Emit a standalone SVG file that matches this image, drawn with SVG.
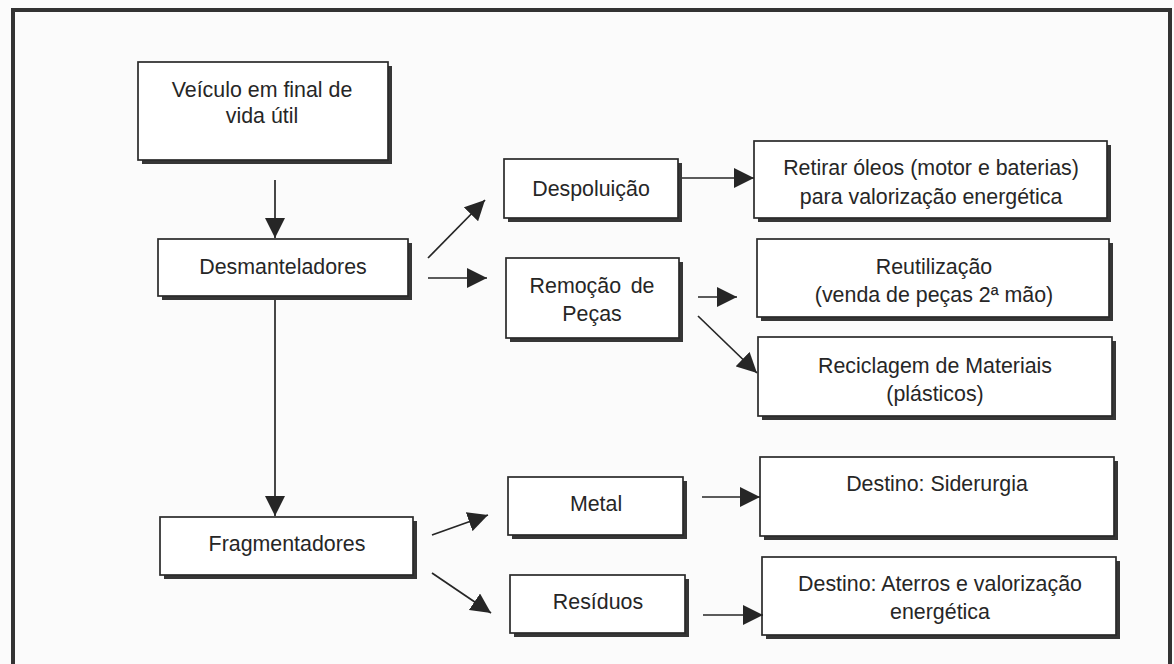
<svg xmlns="http://www.w3.org/2000/svg" width="1174" height="664" viewBox="0 0 1174 664">
  <style>
    .box { fill: #ffffff; stroke: #2a2a2a; stroke-width: 1.7; }
    .shadow { fill: #363636; }
    .lbl { font-family: "Liberation Sans", Arial, sans-serif; font-size: 23px; fill: #262626; text-anchor: middle; }
    .conn { stroke: #262626; stroke-width: 1.7; fill: none; marker-end: url(#head); }
  </style>
  <defs>
    <marker id="head" markerUnits="userSpaceOnUse" markerWidth="20" markerHeight="20" refX="20" refY="10" orient="auto">
      <path d="M0,0 L20,10 L0,20 z" fill="#262626"/>
    </marker>
  </defs>

  <rect x="0" y="0" width="1174" height="664" fill="#fbfbfb"/>
  <!-- outer frame, bottom edge runs past the page -->
  <rect x="13" y="10" width="1157" height="680" fill="none" stroke="#333" stroke-width="4"/>

  <!-- labels use a slightly condensed face: scale(0.93 1) about each anchor -->
  <g id="veiculo">
    <rect class="shadow" x="142" y="66" width="250" height="98"/>
    <rect class="box" x="138" y="62" width="250" height="98"/>
    <text class="lbl" transform="translate(262 97) scale(0.93 1)">Veículo em final de</text>
    <text class="lbl" transform="translate(262 123) scale(0.93 1)">vida útil</text>
  </g>

  <g id="desmanteladores">
    <rect class="shadow" x="162" y="243" width="250" height="57"/>
    <rect class="box" x="158" y="239" width="250" height="57"/>
    <text class="lbl" transform="translate(283 274) scale(0.93 1)">Desmanteladores</text>
  </g>

  <g id="fragmentadores">
    <rect class="shadow" x="164" y="521" width="253" height="58"/>
    <rect class="box" x="160" y="517" width="253" height="58"/>
    <text class="lbl" transform="translate(287 551) scale(0.93 1)">Fragmentadores</text>
  </g>

  <g id="despoluicao">
    <rect class="shadow" x="508" y="163" width="174" height="59"/>
    <rect class="box" x="504" y="159" width="174" height="59"/>
    <text class="lbl" transform="translate(591 196) scale(0.93 1)">Despoluição</text>
  </g>

  <g id="remocao">
    <rect class="shadow" x="510" y="262" width="173" height="80"/>
    <rect class="box" x="506" y="258" width="173" height="80"/>
    <text class="lbl" transform="translate(592 293) scale(0.93 1)" word-spacing="4">Remoção de</text>
    <text class="lbl" transform="translate(592 321) scale(0.93 1)">Peças</text>
  </g>

  <g id="retirar">
    <rect class="shadow" x="758" y="145" width="353" height="77"/>
    <rect class="box" x="754" y="141" width="353" height="77"/>
    <text class="lbl" transform="translate(931 175) scale(0.93 1)">Retirar óleos (motor e baterias)</text>
    <text class="lbl" transform="translate(931 204) scale(0.93 1)">para valorização energética</text>
  </g>

  <g id="reutilizacao">
    <rect class="shadow" x="761" y="243" width="352" height="78"/>
    <rect class="box" x="757" y="239" width="352" height="78"/>
    <text class="lbl" transform="translate(934 274) scale(0.93 1)">Reutilização</text>
    <text class="lbl" transform="translate(934 302) scale(0.93 1)">(venda de peças 2ª mão)</text>
  </g>

  <g id="reciclagem">
    <rect class="shadow" x="762" y="341" width="354" height="79"/>
    <rect class="box" x="758" y="337" width="354" height="79"/>
    <text class="lbl" transform="translate(935 373) scale(0.93 1)">Reciclagem de Materiais</text>
    <text class="lbl" transform="translate(935 401) scale(0.93 1)">(plásticos)</text>
  </g>

  <g id="metal">
    <rect class="shadow" x="512" y="481" width="175" height="58"/>
    <rect class="box" x="508" y="477" width="175" height="58"/>
    <text class="lbl" transform="translate(596 511) scale(0.93 1)">Metal</text>
  </g>

  <g id="residuos">
    <rect class="shadow" x="514" y="579" width="175" height="58"/>
    <rect class="box" x="510" y="575" width="175" height="58"/>
    <text class="lbl" transform="translate(598 609) scale(0.93 1)">Resíduos</text>
  </g>

  <g id="siderurgia">
    <rect class="shadow" x="764" y="461" width="354" height="79"/>
    <rect class="box" x="760" y="457" width="354" height="79"/>
    <text class="lbl" transform="translate(937 491) scale(0.93 1)">Destino: Siderurgia</text>
  </g>

  <g id="aterros">
    <rect class="shadow" x="766" y="561" width="354" height="78"/>
    <rect class="box" x="762" y="557" width="354" height="78"/>
    <text class="lbl" transform="translate(940 591) scale(0.93 1)">Destino: Aterros e valorização</text>
    <text class="lbl" transform="translate(940 619) scale(0.93 1)">energética</text>
  </g>

  <g id="connectors">
    <line class="conn" x1="275" y1="180" x2="275" y2="238"/>
    <line class="conn" x1="275" y1="300" x2="275" y2="516"/>
    <line class="conn" x1="428" y1="258" x2="485" y2="200"/>
    <line class="conn" x1="428" y1="278" x2="487" y2="278"/>
    <line class="conn" x1="682" y1="178" x2="754" y2="178"/>
    <line class="conn" x1="698" y1="297" x2="737" y2="297"/>
    <line class="conn" x1="698" y1="316" x2="757" y2="373"/>
    <line class="conn" x1="432" y1="535" x2="488" y2="515"/>
    <line class="conn" x1="432" y1="573" x2="491" y2="613"/>
    <line class="conn" x1="702" y1="497" x2="760" y2="497"/>
    <line class="conn" x1="703" y1="615" x2="763" y2="615"/>
  </g>
</svg>
